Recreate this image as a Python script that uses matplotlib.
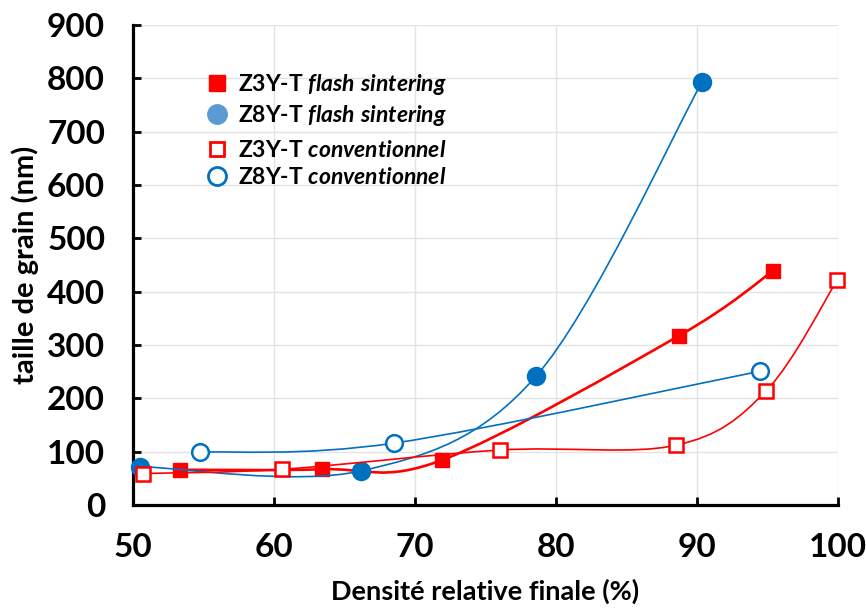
import numpy as np
import matplotlib
matplotlib.use('Agg')
import matplotlib.pyplot as plt
from matplotlib.path import Path
from matplotlib.patches import PathPatch
from matplotlib.lines import Line2D

# data
z3_flash_x = [53.3, 63.4, 71.9, 88.7, 95.4]
z3_flash_y = [66, 67, 84, 317, 439]

z8_flash_x = [50.5, 66.2, 78.6, 90.35]
z8_flash_y = [72, 64, 242, 793]

z3_conv_x = [50.7, 60.6, 76.0, 88.5, 94.9, 99.95]
z3_conv_y = [59, 67, 103, 112, 214, 422]

z8_conv_x = [54.75, 68.5, 94.5]
z8_conv_y = [99, 116, 251]

x_ticks = [50, 60, 70, 80, 90, 100]
y_ticks = [0, 100, 200, 300, 400, 500, 600, 700, 800, 900]

RED = '#FF0000'
BLUE = '#0070C0'
LIGHT_BLUE = '#5B9BD5'

plt.rcParams['font.family'] = ['Lato', 'DejaVu Sans']
plt.rcParams['mathtext.fontset'] = 'custom'
plt.rcParams['mathtext.it'] = 'Lato:italic:bold'
plt.rcParams['mathtext.rm'] = 'Lato:bold'


def smooth_path(x, y):
    # excel-like smoothed line: catmull-rom segments as cubic beziers
    pts = np.column_stack([x, y]).astype(float)
    n = len(pts)
    verts = [pts[0]]
    codes = [Path.MOVETO]
    for i in range(n - 1):
        p0 = pts[max(i - 1, 0)]
        p1 = pts[i]
        p2 = pts[i + 1]
        p3 = pts[min(i + 2, n - 1)]
        verts += [p1 + (p2 - p0) / 6, p2 - (p3 - p1) / 6, p2]
        codes += [Path.CURVE4] * 3
    return Path(verts, codes)


fig = plt.figure(figsize=(8.66, 6.15), dpi=100)
ax = fig.add_axes([0.1536, 0.1789, 0.8141, 0.7804])

series = [
    (z3_flash_x, z3_flash_y, RED, 1.9, dict(marker='s', ms=10.5, mfc=RED, mec=RED)),
    (z8_flash_x, z8_flash_y, BLUE, 1.2, dict(marker='o', ms=13, mfc=BLUE, mec=BLUE)),
    (z3_conv_x, z3_conv_y, RED, 1.2, dict(marker='s', ms=9.5, mfc='white', mec=RED, mew=1.8)),
    (z8_conv_x, z8_conv_y, BLUE, 1.2, dict(marker='o', ms=12, mfc='white', mec=BLUE, mew=1.8)),
]

for i, (x, y, c, lw, mk) in enumerate(series):
    ax.add_patch(PathPatch(smooth_path(x, y), fill=False, ec=c, lw=lw, zorder=2 + i))
    ax.plot(x, y, ls='none', zorder=2.5 + i, clip_on=False, **mk)

ax.set_xlim(50, 100)
ax.set_ylim(0, 900)
ax.set_xticks(x_ticks)
ax.set_yticks(y_ticks)

ax.grid(True, color='#E3E3E3', lw=1)
ax.set_axisbelow(True)

for s in ['top', 'right']:
    ax.spines[s].set_visible(False)
for s in ['left', 'bottom']:
    ax.spines[s].set_linewidth(2.3)

ax.tick_params(direction='in', length=6, width=2, labelsize=24, pad=20)
for lab in ax.get_xticklabels() + ax.get_yticklabels():
    lab.set_fontweight('bold')

ax.set_xlabel('Densité relative finale (%)', fontsize=19.5, fontweight='bold', labelpad=12)
ax.set_ylabel('taille de grain (nm)', fontsize=21, fontweight='bold', labelpad=6)

flash_handles = [
    Line2D([], [], ls='none', marker='s', ms=11, mfc=RED, mec=RED),
    Line2D([], [], ls='none', marker='o', ms=14, mfc=LIGHT_BLUE, mec=LIGHT_BLUE),
]
conv_handles = [
    Line2D([], [], ls='none', marker='s', ms=10, mfc='white', mec=RED, mew=2),
    Line2D([], [], ls='none', marker='o', ms=13, mfc='white', mec=BLUE, mew=2),
]

leg_kw = dict(frameon=False, handletextpad=0.1, handlelength=1.6, borderaxespad=0,
              labelspacing=0.28, prop={'size': 16.5, 'weight': 'bold'})
leg1 = ax.legend(flash_handles,
                 ['Z3Y-T $\\it{flash\\ sintering}$', 'Z8Y-T $\\it{flash\\ sintering}$'],
                 loc='upper left', bbox_to_anchor=(0.08, 0.922), **leg_kw)
ax.add_artist(leg1)
ax.legend(conv_handles,
          ['Z3Y-T $\\it{conventionnel}$', 'Z8Y-T $\\it{conventionnel}$'],
          loc='upper left', bbox_to_anchor=(0.08, 0.78), **leg_kw)

fig.savefig('out.png', dpi=100)
